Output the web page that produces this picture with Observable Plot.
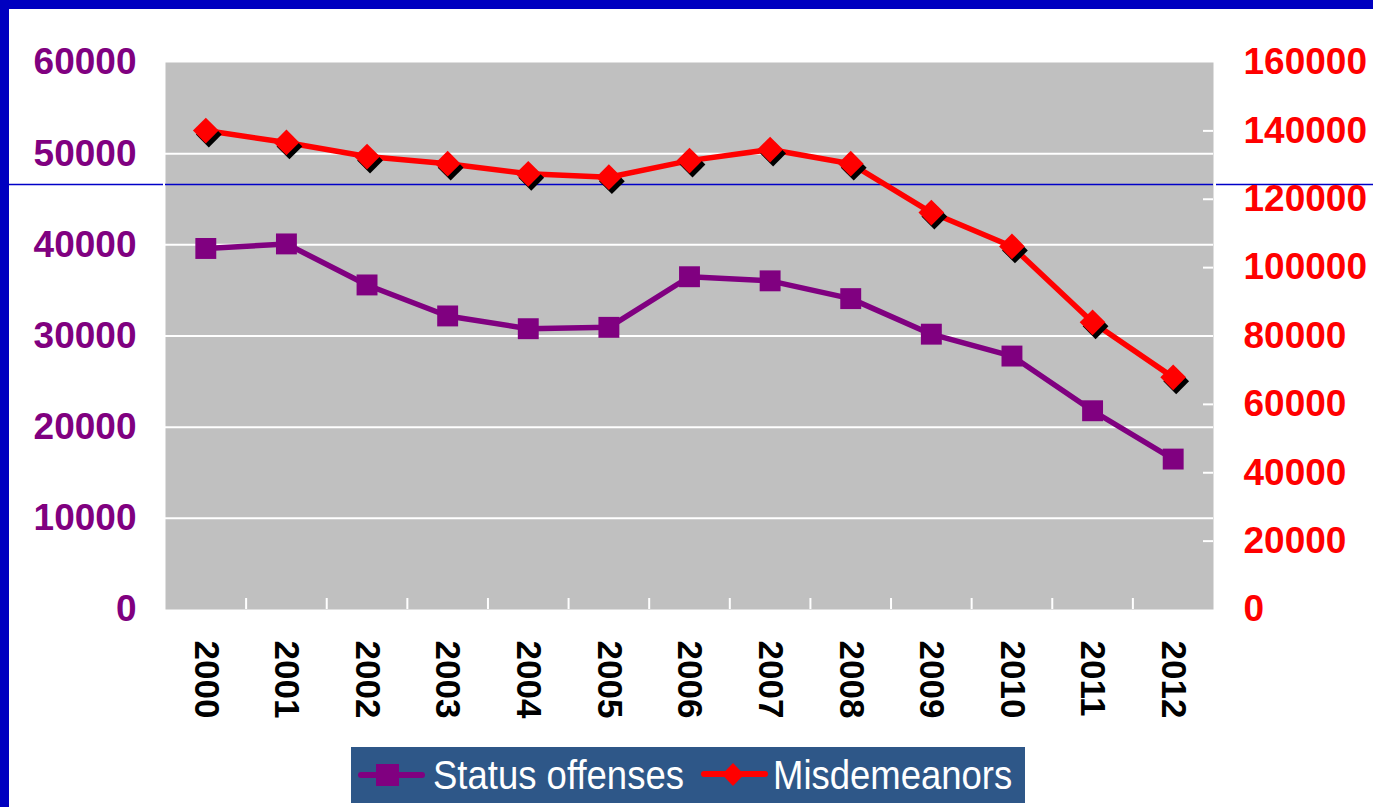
<!DOCTYPE html>
<html>
<head>
<meta charset="utf-8">
<script src="https://cdn.jsdelivr.net/npm/d3@7"></script>
<script src="https://cdn.jsdelivr.net/npm/@observablehq/plot@0.6"></script>
<style>
  html, body { margin: 0; padding: 0; background: #ffffff; overflow: hidden; }
  #page { position: relative; width: 1373px; height: 807px; background: #ffffff; font-family: "Liberation Sans", Arial, sans-serif; }
  #topbar { position: absolute; left: 0; top: 0; width: 1373px; height: 9px; background: #0000C0; }
  #leftbar { position: absolute; left: 0; top: 0; width: 9px; height: 807px; background: #0000C0; }
  #chart { position: absolute; left: 0; top: 0; }
  #legend { position: absolute; left: 351px; top: 747px; }
</style>
</head>
<body>
<div id="page">
  <div id="chart"></div>
  <div id="topbar"></div>
  <div id="leftbar"></div>
  <svg id="legend" width="674" height="56" xmlns="http://www.w3.org/2000/svg">
    <rect x="0" y="0" width="674" height="56" fill="#2E5788"></rect>
    <line x1="10" y1="28" x2="71" y2="28" stroke="#800080" stroke-width="6" stroke-linecap="round"></line>
    <rect x="25" y="17" width="23" height="22" fill="#800080"></rect>
    <text id="lg1" transform="translate(82,42) scale(0.913,1)" x="0" y="0" fill="#ffffff" font-family="Liberation Sans, Arial, sans-serif" font-size="40"></text>
    <line x1="353" y1="27" x2="414" y2="27" stroke="#FF0000" stroke-width="6" stroke-linecap="round"></line>
    <path d="M382,16L393,27.5L382,39L371,27.5Z" fill="#FF0000"></path>
    <text id="lg2" transform="translate(422,42) scale(0.912,1)" x="0" y="0" fill="#ffffff" font-family="Liberation Sans, Arial, sans-serif" font-size="40"></text>
  </svg>
</div>
<script>
// ---- Data ----
const years = [2000, 2001, 2002, 2003, 2004, 2005, 2006, 2007, 2008, 2009, 2010, 2011, 2012];
const statusOffenses = [39600, 40100, 35600, 32200, 30800, 30950, 36500, 36050, 34100, 30200, 27800, 21800, 16500];
const misdemeanors = [140100, 136600, 132500, 130400, 127450, 126450, 131300, 134550, 130400, 116100, 106200, 84000, 67900];
const leftTicks = [0, 10000, 20000, 30000, 40000, 50000, 60000];
const rightTicks = [0, 20000, 40000, 60000, 80000, 100000, 120000, 140000, 160000];

const seriesNames = ["Status offenses", "Misdemeanors"];
document.getElementById("lg1").textContent = seriesNames[0];
document.getElementById("lg2").textContent = seriesNames[1];

const purple = "#800080";
const red = "#FF0000";
const leftMax = 60000;
const rightMax = 160000;
const k = leftMax / rightMax; // maps right-axis values onto the left scale

const rows = years.map((year, i) => ({year, status: statusOffenses[i], misd: misdemeanors[i]}));
const boundaries = years.slice(1).map(y => y - 0.5);

const W = 1373, H = 740;
const mL = 165, mR = 160, mT = 62, mB = 131;
const innerW = W - mL - mR;
const innerH = H - mT - mB;

// slide decoration: thin blue horizontal line
function blueLine() {
  const p = document.createElementNS("http://www.w3.org/2000/svg", "path");
  p.setAttribute("d", "M9,184.5H163M165,184.5H1213M1216,184.5H1373");
  p.setAttribute("stroke", "#0000C8");
  p.setAttribute("stroke-width", "1.4");
  p.setAttribute("fill", "none");
  return p;
}

const boldText = {fontSize: 37, fontWeight: "bold"};

const chart = Plot.plot({
  width: W,
  height: H,
  marginLeft: mL,
  marginRight: mR,
  marginTop: mT,
  marginBottom: mB,
  style: {fontFamily: "'Liberation Sans', Arial, sans-serif", background: "transparent", overflow: "visible"},
  x: {type: "linear", domain: [years[0] - 0.5, years[years.length - 1] + 0.5], axis: null},
  y: {domain: [0, leftMax], axis: null},
  marks: [
    Plot.frame({fill: "#C0C0C0"}),
    Plot.ruleY(leftTicks.filter(v => v > 0 && v < leftMax), {stroke: "#ffffff", strokeWidth: 2}),
    Plot.tickY(rightTicks.filter(v => v > 0 && v < rightMax).map(v => v * k), {stroke: "#ffffff", strokeWidth: 2, insetLeft: innerW - 10}),
    Plot.tickX(boundaries, {stroke: "#ffffff", strokeWidth: 2, insetTop: innerH - 11}),
    blueLine,
    Plot.line(rows, {x: "year", y: "status", stroke: purple, strokeWidth: 5.5}),
    Plot.dot(rows, {x: "year", y: "status", symbol: "square", r: 11.8, fill: purple}),
    Plot.line(rows, {x: "year", y: d => d.misd * k, stroke: red, strokeWidth: 5.5}),
    Plot.dot(rows, {x: "year", y: d => d.misd * k, symbol: "diamond2", r: 11.6, fill: "#000000", dx: 3, dy: 4}),
    Plot.dot(rows, {x: "year", y: d => d.misd * k, symbol: "diamond2", r: 11.6, fill: red}),
    Plot.axisY(leftTicks, {anchor: "left", tickSize: 0, tickPadding: 29, tickFormat: d => String(d), fill: purple, label: null, ...boldText}),
    Plot.axisY(rightTicks.map(v => v * k), {anchor: "right", tickSize: 0, tickPadding: 30, tickFormat: v => String(Math.round(v / k)), fill: red, label: null, textAnchor: "start", ...boldText}),
    Plot.axisX(years, {anchor: "bottom", tickSize: 0, tickPadding: 31, tickRotate: 90, tickFormat: d => String(d), fill: "#000000", label: null, fontSize: 35, fontWeight: "bold"})
  ]
});
document.getElementById("chart").appendChild(chart);
</script>
</body>
</html>
